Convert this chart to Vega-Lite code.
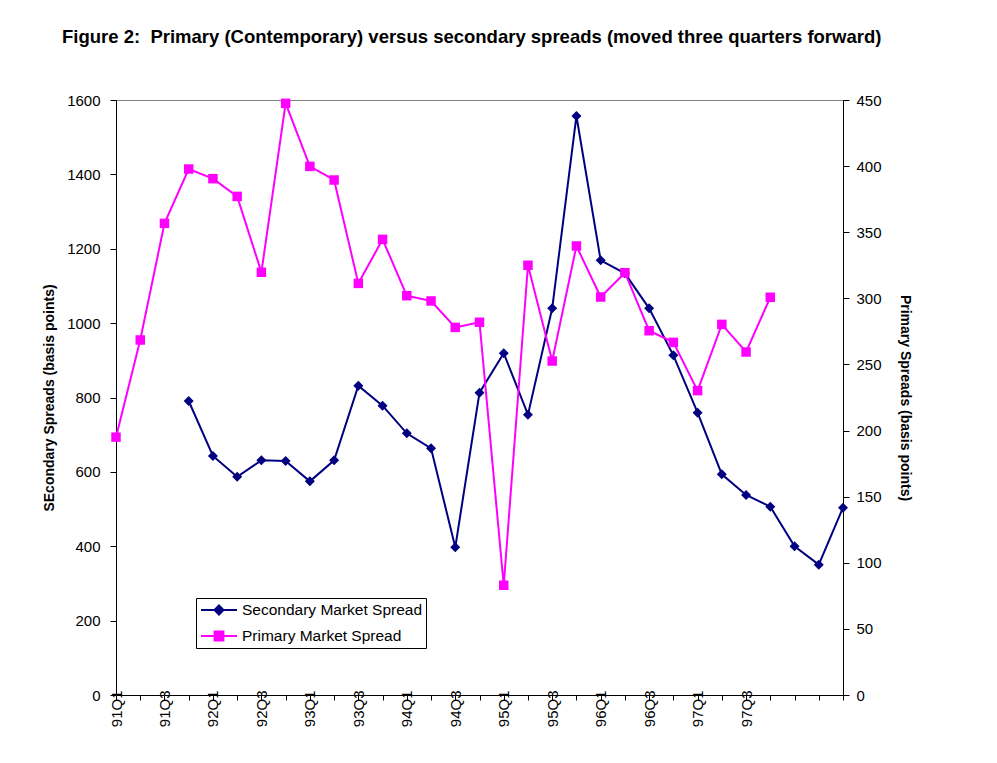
{
  "$schema": "https://vega.github.io/schema/vega-lite/v6.json",
  "autosize": {"type": "none"},
  "width": 727,
  "height": 595,
  "padding": {"left": 116, "top": 100, "right": 154, "bottom": 68},
  "background": "white",
  "config": {
    "font": "Liberation Sans",
    "view": {"stroke": "#808080", "strokeWidth": 1},
    "axis": {
      "domainColor": "black", "tickColor": "black", "labelColor": "black", "titleColor": "black",
      "labelFont": "Liberation Sans", "titleFont": "Liberation Sans",
      "labelFontSize": 15, "titleFontSize": 14, "titleFontWeight": "bold",
      "grid": false, "tickSize": 6, "domainWidth": 1, "tickWidth": 1
    },
    "legend": {
      "orient": "none", "legendX": 80, "legendY": 498,
      "strokeColor": "black", "fillColor": "white", "padding": 3,
      "labelFont": "Liberation Sans", "labelFontSize": 15.5, "labelColor": "black", "labelLimit": 400,
      "symbolSize": 256, "symbolStrokeWidth": 2, "symbolOffset": 11, "labelOffset": 14, "rowPadding": 8
    }
  },
  "title": {
    "text": "Figure 2:\u00a0 Primary (Contemporary) versus secondary spreads (moved three quarters forward)",
    "anchor": "start", "frame": "group", "dx": -54, "offset": 47,
    "font": "Liberation Sans", "fontSize": 18.5, "fontWeight": "bold", "color": "black"
  },
  "data": {"values": [
    {"q": "91Q1", "sec": null, "pri": 195},
    {"q": "91Q2", "sec": null, "pri": 268.5},
    {"q": "91Q3", "sec": null, "pri": 356.7},
    {"q": "91Q4", "sec": 790.6, "pri": 397.8},
    {"q": "92Q1", "sec": 642.7, "pri": 390.5},
    {"q": "92Q2", "sec": 587, "pri": 377.1},
    {"q": "92Q3", "sec": 631, "pri": 319.7},
    {"q": "92Q4", "sec": 629.2, "pri": 447.5},
    {"q": "93Q1", "sec": 574.6, "pri": 399.8},
    {"q": "93Q2", "sec": 631, "pri": 389.5},
    {"q": "93Q3", "sec": 831.8, "pri": 311.3},
    {"q": "93Q4", "sec": 778, "pri": 344.6},
    {"q": "94Q1", "sec": 703.6, "pri": 302},
    {"q": "94Q2", "sec": 663.3, "pri": 298},
    {"q": "94Q3", "sec": 397.1, "pri": 278},
    {"q": "94Q4", "sec": 813, "pri": 281.9},
    {"q": "95Q1", "sec": 919.2, "pri": 83},
    {"q": "95Q2", "sec": 753.8, "pri": 325},
    {"q": "95Q3", "sec": 1039.8, "pri": 252.6},
    {"q": "95Q4", "sec": 1557, "pri": 339.6},
    {"q": "96Q1", "sec": 1168.9, "pri": 301},
    {"q": "96Q2", "sec": 1133.9, "pri": 319.4},
    {"q": "96Q3", "sec": 1039.8, "pri": 275.5},
    {"q": "96Q4", "sec": 913.4, "pri": 266.7},
    {"q": "97Q1", "sec": 759.2, "pri": 230.2},
    {"q": "97Q2", "sec": 593.4, "pri": 280.3},
    {"q": "97Q3", "sec": 537.8, "pri": 259.4},
    {"q": "97Q4", "sec": 506.4, "pri": 300.8},
    {"q": "98Q1", "sec": 399.8, "pri": null},
    {"q": "98Q2", "sec": 350.5, "pri": null},
    {"q": "98Q3", "sec": 503.7, "pri": null}
  ]},
  "encoding": {
    "x": {
      "field": "q", "type": "ordinal", "sort": null,
      "scale": {"type": "point", "padding": 0},
      "axis": {
        "title": null, "labelAngle": -90, "labelPadding": -10, "tickSize": 5,
        "labelOverlap": false,
        "labelExpr": "(slice(datum.value,3,4)=='1' || slice(datum.value,3,4)=='3') && slice(datum.value,0,2) <= '97' ? datum.value : ''"
      }
    }
  },
  "layer": [
    {
      "mark": {"type": "line", "color": "#000080", "strokeWidth": 2,
               "point": {"shape": "diamond", "filled": true, "size": 100, "color": "#000080", "opacity": 1}},
      "encoding": {
        "y": {"field": "sec", "type": "quantitative",
              "scale": {"domain": [0, 1600], "nice": false},
              "axis": {"orient": "left", "values": [0,200,400,600,800,1000,1200,1400,1600], "format": "d",
                       "title": "SEcondary Spreads (basis points)", "labelPadding": 10, "titlePadding": 10}}
      }
    },
    {
      "mark": {"type": "line", "color": "#FF00FF", "strokeWidth": 2,
               "point": {"shape": "square", "filled": true, "size": 90, "color": "#FF00FF", "opacity": 1}},
      "encoding": {
        "y": {"field": "pri", "type": "quantitative",
              "scale": {"domain": [0, 450], "nice": false},
              "axis": {"orient": "right", "values": [0,50,100,150,200,250,300,350,400,450], "format": "d",
                       "title": "Primary Spreads (basis points)", "labelPadding": 7, "titlePadding": 16}}
      }
    },
    {
      "transform": [{"filter": {"field": "q", "equal": "none"}}],
      "mark": {"type": "point", "filled": true, "opacity": 1},
      "encoding": {
        "fill": {"field": "series", "type": "nominal",
                 "scale": {"domain": ["Secondary Market Spread", "Primary Market Spread"], "range": ["#000080", "#FF00FF"]},
                 "legend": {"title": null}},
        "stroke": {"field": "series", "type": "nominal",
                 "scale": {"domain": ["Secondary Market Spread", "Primary Market Spread"], "range": ["#000080", "#FF00FF"]},
                 "legend": {"title": null}},
        "shape": {"field": "series", "type": "nominal",
                  "scale": {"domain": ["Secondary Market Spread", "Primary Market Spread"],
                            "range": ["M-2.25,0H2.25M0,-0.56L0.56,0L0,0.56L-0.56,0Z", "M-2.25,0H2.25M-0.55,-0.55H0.55V0.55H-0.55Z"]},
                  "legend": {"title": null}}
      }
    }
  ],
  "resolve": {"scale": {"y": "independent"}}
}
